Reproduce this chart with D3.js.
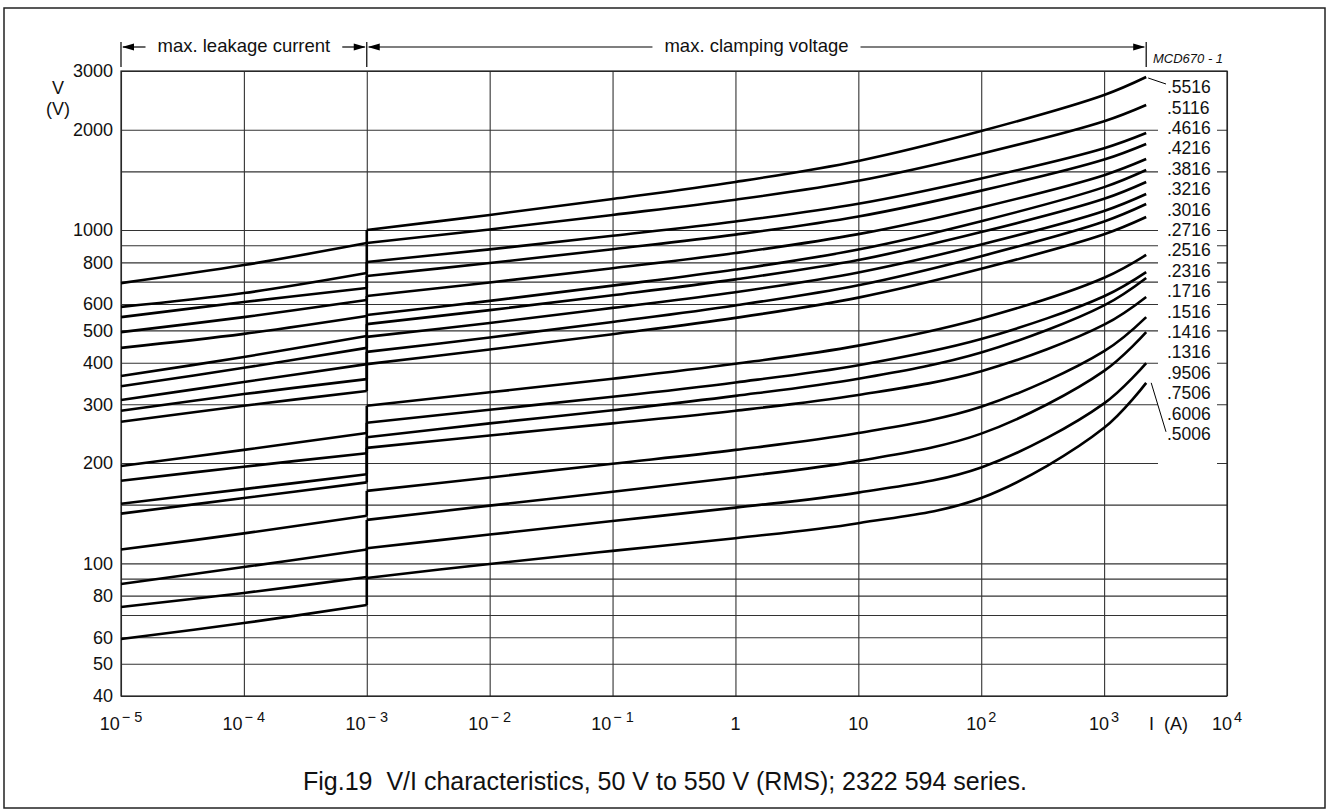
<!DOCTYPE html>
<html>
<head>
<meta charset="utf-8">
<script src="https://cdn.jsdelivr.net/npm/d3@7"></script>
<style>
  body { margin: 0; background: #fff; }
  svg text { font-family: "Liberation Sans", Arial, sans-serif; fill: #111; }
</style>
</head>
<body>
<svg id="chart" width="1326" height="812"></svg>
<script>
//////////////////////////////////////////////////////////////
// data (current in A, voltage in V)
var currentTicks = [1e-5, 1e-4, 1e-3, 1e-2, 1e-1, 1, 10, 100, 1000, 10000];
var currentBase = ['10', '10', '10', '10', '10', '1', '10', '10', '10', '10'];
var currentExp = ['\u2212 5', '\u2212 4', '\u2212 3', '\u2212 2', '\u2212 1', '', '', '2', '3', '4'];
var voltTicks = [3000, 2000, 1000, 800, 600, 500, 400, 300, 200, 100, 80, 60, 50, 40];
var voltGrid = [3000, 2000, 1500, 1000, 900, 800, 700, 600, 500, 400, 300, 200, 150, 100, 90, 80, 70, 60, 50, 40];
var typeLabels = ['.5516', '.5116', '.4616', '.4216', '.3816', '.3216', '.3016', '.2716', '.2516', '.2316',
                  '.1716', '.1516', '.1416', '.1316', '.9506', '.7506', '.6006', '.5006'];

// max. leakage current part
var leakI = [1e-5, 1e-4, 1e-3];
var leakV = [
  [693, 785, 914], [588, 647, 743], [548, 608, 670], [494, 548, 617], [443, 488, 552],
  [365, 416, 481], [340, 386, 443], [309, 350, 396], [287, 322, 357], [266, 297, 329],
  [196, 219, 246], [177, 195, 214], [151, 167, 185], [141, 157, 175], [110, 123, 139],
  [86.7, 97.5, 110], [74, 81.5, 91], [59.3, 66.2, 75]
];

// max. clamping voltage part
var clampI = [1e-3, 1e-2, 1e-1, 1, 10, 100, 1000, 2200];
var clampV = [
  [1000, 1110, 1239, 1394, 1612, 1982, 2542, 2878],
  [914, 1004, 1110, 1233, 1405, 1694, 2120, 2372],
  [802, 875, 961, 1061, 1199, 1428, 1760, 1955],
  [728, 796, 876, 969, 1098, 1313, 1627, 1812],
  [634, 696, 768, 853, 972, 1169, 1461, 1633],
  [556, 613, 681, 761, 874, 1063, 1345, 1514],
  [522, 575, 637, 711, 813, 986, 1241, 1394],
  [478, 526, 584, 651, 746, 905, 1141, 1283],
  [431, 476, 530, 594, 683, 835, 1061, 1197],
  [396, 438, 487, 545, 627, 765, 971, 1094],
  [297, 326, 358, 397, 450, 543, 719, 842],
  [264, 289, 316, 349, 393, 471, 633, 748],
  [239, 263, 288, 318, 358, 429, 594, 718],
  [222, 242, 263, 287, 320, 377, 520, 630],
  [165, 181, 199, 219, 246, 295, 433, 548],
  [135, 149, 164, 181, 203, 245, 378, 494],
  [111, 122, 134, 147, 163, 194, 302, 399],
  [90.4, 99.6, 109, 119, 132, 157, 255, 348]
];

//////////////////////////////////////////////////////////////
var plot = {left: 121, right: 1227, top: 71, bottom: 696};
var svg = d3.select('#chart');

var x = d3.scaleLog().domain([1e-5, 1e4]).range([plot.left, plot.right]);
var y = d3.scaleLog().domain([40, 3000]).range([plot.bottom, plot.top]);

// outer frame
svg.append('rect')
  .attr('x', 4).attr('y', 8).attr('width', 1321).attr('height', 800)
  .attr('fill', 'none').attr('stroke', '#222').attr('stroke-width', 1.5);

// grid
var hGrid = svg.append('g')
  .attr('transform', 'translate(' + [plot.left, 0] + ')')
  .call(d3.axisLeft(y).tickValues(voltGrid).tickSize(-(plot.right - plot.left)).tickFormat(''));
var vGrid = svg.append('g')
  .attr('transform', 'translate(' + [0, plot.bottom] + ')')
  .call(d3.axisBottom(x).tickValues(currentTicks).tickSize(-(plot.bottom - plot.top)).tickFormat(''));
[hGrid, vGrid].forEach(function(g) {
  g.select('.domain').remove();
  g.selectAll('line').attr('stroke', '#333').attr('stroke-width', 1.1);
});

// label column breaks the grid lines
svg.append('rect')
  .attr('x', 1158).attr('y', plot.top + 3).attr('width', 59).attr('height', 398)
  .attr('fill', '#fff');

// plot border
svg.append('rect')
  .attr('x', plot.left).attr('y', plot.top)
  .attr('width', plot.right - plot.left).attr('height', plot.bottom - plot.top)
  .attr('fill', 'none').attr('stroke', '#222').attr('stroke-width', 1.2);

// y tick labels
var yAxis = svg.append('g')
  .attr('transform', 'translate(' + [plot.left, 0] + ')')
  .call(d3.axisLeft(y).tickValues(voltTicks).tickSize(0).tickPadding(8).tickFormat(d3.format('d')));
yAxis.select('.domain').remove();
yAxis.selectAll('text').attr('font-size', 18).attr('font-family', '"Liberation Sans", Arial, sans-serif');

svg.append('text').attr('x', 58).attr('y', 94).attr('text-anchor', 'middle').attr('font-size', 18).text('V');
svg.append('text').attr('x', 58).attr('y', 115).attr('text-anchor', 'middle').attr('font-size', 18).text('(V)');

// x tick labels with superscripts
var xl = svg.append('g').selectAll('text')
  .data(currentTicks)
  .enter().append('text')
  .attr('x', d => x(d))
  .attr('y', 730)
  .attr('text-anchor', 'middle')
  .attr('font-size', 18)
  .style('white-space', 'pre');
xl.append('tspan').text((d, i) => currentBase[i]);
xl.append('tspan')
  .attr('dy', -8).attr('dx', 2).attr('font-size', 14.5)
  .text((d, i) => currentExp[i]);

svg.append('text').attr('x', 1149).attr('y', 730).attr('font-size', 18)
  .style('white-space', 'pre').text('I  (A)');

// curves
var line = d3.line()
  .x(d => x(d[0]))
  .y(d => y(d[1]))
  .curve(d3.curveCatmullRom.alpha(0.5));

var curves = svg.append('g')
  .attr('fill', 'none').attr('stroke', '#000').attr('stroke-width', 2.6)
  .attr('stroke-linejoin', 'round');

leakV.forEach(function(vals, i) {
  curves.append('path').attr('d', line(leakI.map((c, j) => [c, vals[j]])));
  curves.append('path').attr('d', line(clampI.map((c, j) => [c, clampV[i][j]])));
  curves.append('line')
    .attr('x1', x(1e-3)).attr('x2', x(1e-3))
    .attr('y1', y(vals[vals.length - 1])).attr('y2', y(clampV[i][0]));
});

// type labels on the right
var labelY = i => 87 + i * 20.4;
svg.append('g').selectAll('text')
  .data(typeLabels)
  .enter().append('text')
  .attr('x', 1167)
  .attr('y', (d, i) => labelY(i))
  .attr('dy', '0.35em')
  .attr('font-size', 17.5)
  .text(d => d);

var lastI = clampI[clampI.length - 1];
svg.append('line')
  .attr('x1', x(lastI) + 2).attr('y1', y(clampV[0][7]) + 1)
  .attr('x2', 1166).attr('y2', labelY(0) - 3)
  .attr('stroke', '#000').attr('stroke-width', 1);
svg.append('line')
  .attr('x1', x(lastI) + 5).attr('y1', y(clampV[17][7]))
  .attr('x2', 1166).attr('y2', labelY(17) - 2)
  .attr('stroke', '#000').attr('stroke-width', 1);

// header ranges
var hy = 47;
var head = svg.append('g').attr('stroke', '#000').attr('stroke-width', 1.2);
[x(1e-5), x(1e-3), x(lastI)].forEach(function(px) {
  head.append('line').attr('x1', px).attr('x2', px).attr('y1', 42).attr('y2', 67);
});

function arrow(tip, dir) {
  svg.append('path')
    .attr('d', 'M' + tip + ',' + hy + 'L' + (tip + dir * 12) + ',' + (hy - 3.5) +
               'L' + (tip + dir * 12) + ',' + (hy + 3.5) + 'Z')
    .attr('fill', '#000');
}

function range(x0, x1, label) {
  var t = svg.append('text')
    .attr('x', (x0 + x1) / 2).attr('y', 52)
    .attr('text-anchor', 'middle').attr('font-size', 18.5)
    .text(label);
  var w = t.node().getComputedTextLength();
  var c = (x0 + x1) / 2;
  head.append('line').attr('x1', x0 + 2).attr('x2', c - w / 2 - 12).attr('y1', hy).attr('y2', hy);
  head.append('line').attr('x1', c + w / 2 + 12).attr('x2', x1 - 2).attr('y1', hy).attr('y2', hy);
  arrow(x0 + 1, 1);
  arrow(x1 - 1, -1);
}
range(x(1e-5), x(1e-3), 'max. leakage current');
range(x(1e-3), x(lastI), 'max. clamping voltage');

svg.append('text').attr('x', 1153).attr('y', 63)
  .attr('font-size', 13).attr('font-style', 'italic').text('MCD670 - 1');

// caption
svg.append('text')
  .attr('x', 665).attr('y', 790)
  .attr('text-anchor', 'middle').attr('font-size', 25)
  .style('white-space', 'pre')
  .text('Fig.19  V/I characteristics, 50 V to 550 V (RMS); 2322 594 series.');
</script>
</body>
</html>
